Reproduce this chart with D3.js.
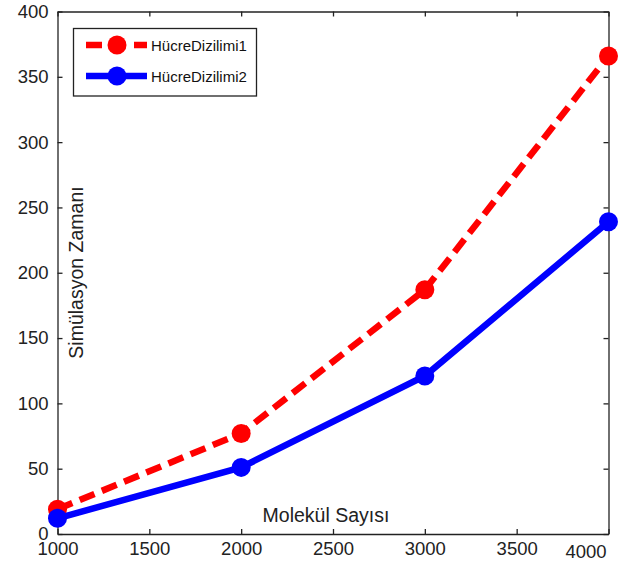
<!DOCTYPE html>
<html>
<head>
<meta charset="utf-8">
<script src="https://cdn.jsdelivr.net/npm/d3@7"></script>
<style>
  body { margin: 0; background: #fff; }
  svg { display: block; }
  .tick text { font-family: "Liberation Sans", Arial, sans-serif; font-size: 18.5px; fill: #222; }
  .lbl { font-family: "Liberation Sans", Arial, sans-serif; font-size: 19.5px; fill: #222; }
  .leg { font-family: "Liberation Sans", Arial, sans-serif; font-size: 15px; fill: #111; }
</style>
</head>
<body>
<div id="chart"></div>
<script>
// molekul sayisi on x, simulasyon zamani on y
var molekul = [1000, 2000, 3000, 4000];
var hucre1 = [19, 77, 187, 366];
var hucre2 = [12, 51, 121, 239];
var xTicks = [1000, 1500, 2000, 2500, 3000, 3500, 4000];
var yTicks = [0, 50, 100, 150, 200, 250, 300, 350, 400];
var seriesNames = ["HücreDizilimi1", "HücreDizilimi2"];

var width = 623, height = 567;
var plotLeft = 57.5, plotRight = 608.5, plotTop = 11.5, plotBottom = 534;

var svg = d3.select("#chart").append("svg")
    .attr("width", width)
    .attr("height", height);

var x = d3.scaleLinear().domain([1000, 4000]).range([plotLeft, plotRight]);
var y = d3.scaleLinear().domain([0, 400]).range([plotBottom, plotTop]);

var frameColor = "#222";
var fmt = d3.format("d");

// bottom axis, ticks pointing in
var xAxis = svg.append("g")
    .attr("transform", "translate(0," + plotBottom + ")")
    .call(d3.axisBottom(x).tickValues(xTicks).tickFormat(fmt).tickSizeInner(-5).tickSizeOuter(0).tickPadding(8));
// the 4000 label sits off to the left of its tick
xAxis.selectAll(".tick text")
    .attr("dx", function (d) { return d == 4000 ? -23 : 0; })
    .attr("y", function (d) { return d == 4000 ? 11 : 8; });

svg.append("g")
    .attr("transform", "translate(0," + plotTop + ")")
    .call(d3.axisTop(x).tickValues(xTicks).tickSizeInner(-5).tickSizeOuter(0).tickFormat(""));

svg.append("g")
    .attr("transform", "translate(" + plotLeft + ",0)")
    .call(d3.axisLeft(y).tickValues(yTicks).tickFormat(fmt).tickSizeInner(-5).tickSizeOuter(0).tickPadding(9));

svg.append("g")
    .attr("transform", "translate(" + plotRight + ",0)")
    .call(d3.axisRight(y).tickValues(yTicks).tickSizeInner(-5).tickSizeOuter(0).tickFormat(""));

svg.selectAll(".domain, .tick line").attr("stroke", frameColor).attr("stroke-width", 1.3);

// axis titles, placed inside the plot like the original
svg.append("text")
    .attr("class", "lbl")
    .attr("x", 326)
    .attr("y", 521.5)
    .attr("text-anchor", "middle")
    .text("Molekül Sayısı");

svg.append("text")
    .attr("class", "lbl")
    .attr("transform", "translate(83,272.5) rotate(-90)")
    .attr("text-anchor", "middle")
    .text("Simülasyon Zamanı");

var series = [
    { name: seriesNames[0], values: hucre1, color: "#ff0000", dash: "16,8" },
    { name: seriesNames[1], values: hucre2, color: "#0000ff", dash: null }
];

var line = d3.line()
    .x(function (d, i) { return x(molekul[i]); })
    .y(function (d) { return y(d); });

series.forEach(function (s) {
    svg.append("path")
        .datum(s.values)
        .attr("fill", "none")
        .attr("stroke", s.color)
        .attr("stroke-width", 6.5)
        .attr("stroke-dasharray", s.dash)
        .attr("d", line);

    svg.selectAll(null)
        .data(s.values)
        .enter().append("circle")
        .attr("cx", function (d, i) { return x(molekul[i]); })
        .attr("cy", function (d) { return y(d); })
        .attr("r", 9.5)
        .attr("fill", s.color);
});

// legend
var legend = svg.append("g");
legend.append("rect")
    .attr("x", 73.5).attr("y", 28.5)
    .attr("width", 183).attr("height", 67.5)
    .attr("fill", "#fff")
    .attr("stroke", frameColor)
    .attr("stroke-width", 1.3);

var rowY = [45, 76];
series.forEach(function (s, i) {
    legend.append("line")
        .attr("x1", 86).attr("x2", 147)
        .attr("y1", rowY[i]).attr("y2", rowY[i])
        .attr("stroke", s.color)
        .attr("stroke-width", 6.5)
        .attr("stroke-dasharray", s.dash);
    legend.append("circle")
        .attr("cx", 117).attr("cy", rowY[i])
        .attr("r", 9.5)
        .attr("fill", s.color);
    legend.append("text")
        .attr("class", "leg")
        .attr("x", 151)
        .attr("y", rowY[i] + 5.5)
        .text(s.name);
});
</script>
</body>
</html>
